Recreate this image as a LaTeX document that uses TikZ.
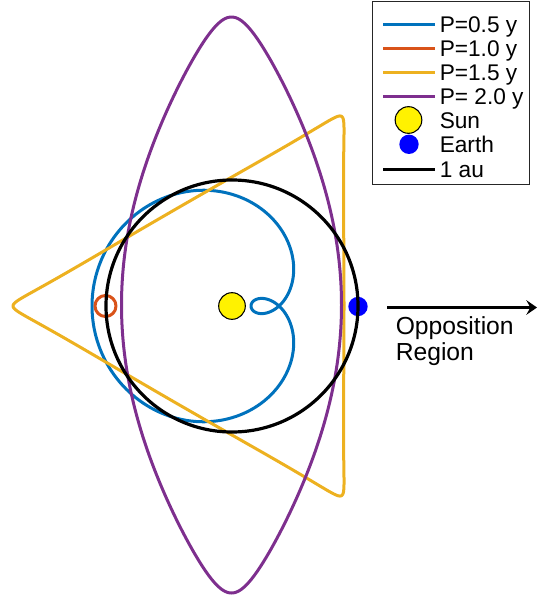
\documentclass[tikz,border=0pt]{standalone}
\usepackage{fontspec}
\setmainfont{Liberation Sans}
\usetikzlibrary{arrows.meta}
\definecolor{mblue}{rgb}{0,0.447,0.741}
\definecolor{mred}{rgb}{0.85,0.325,0.098}
\definecolor{myel}{rgb}{0.929,0.694,0.125}
\definecolor{mpur}{rgb}{0.494,0.184,0.556}
\definecolor{boxgray}{rgb}{0.15,0.15,0.15}
\begin{document}
\begin{tikzpicture}[x=0.75pt,y=-0.75pt,
  curve/.style={line width=2.25pt, line join=round},
  legtext/.style={anchor=base west, inner sep=0pt, font=\fontsize{17}{20}\selectfont},
  anntext/.style={anchor=base west, inner sep=0pt, font=\fontsize{18.5}{21}\selectfont},
  sunball/.style={circle, fill=yellow, draw=black, line width=0.8pt, minimum size=20pt, inner sep=0pt},
  earthball/.style={circle, fill=blue, minimum size=14.5pt, inner sep=0pt}]
\useasboundingbox (0,0) rectangle (538,596);
% P = 0.5 y
\draw[curve, mblue] plot[domain=0:360, samples=241, smooth, variable=\t]
  ({279-(79.5+107.5*cos(\t))*cos(\t)}, {306-(79.5+107.5*cos(\t))*sin(\t)});
% P = 1.0 y
\draw[curve, mred] (105.5,306) circle[radius=10.5];
% P = 1.5 y
\draw[curve, myel] plot[domain=0:360, samples=301, smooth, variable=\t]
  ({232-(165.5*cos(\t)+58.5*cos(2*\t)-5*cos(4*\t))}, {306-(165.5*sin(\t)-58.5*sin(2*\t)-5*sin(4*\t))});
% P = 2.0 y
\draw[curve, mpur] plot[domain=0:360, samples=241, smooth, variable=\t]
  ({231.5+110*cos(\t)*(1-0.45*sin(\t)*sin(\t))}, {305+288*sin(\t)});
% Sun and Earth
\node[sunball] (sun) at (232,306) {};
\node[earthball] (earth) at (358,306.5) {};
% 1 au
\draw[line width=2.4pt] (232,306) circle[radius=126];
% arrow and label
\coordinate (a0) at (387,307.5);
\coordinate (a1) at (537,307.5);
\draw[line width=2.4pt, -{Stealth[length=8pt,width=11pt,inset=3pt]}] (a0) -- (a1);
\node[anntext] (opp) at (395.5,334) {Opposition};
\node[anntext] (reg) at (395.5,360) {Region};
% legend
\draw[boxgray, line width=0.75pt, fill=white] (372,1.5) rectangle (529,184.5);
\coordinate (l1a) at (383,24); \coordinate (l1b) at (435,24);
\coordinate (l2a) at (383,48.2); \coordinate (l2b) at (435,48.2);
\coordinate (l3a) at (383,72.4); \coordinate (l3b) at (435,72.4);
\coordinate (l4a) at (383,96.6); \coordinate (l4b) at (435,96.6);
\coordinate (l7a) at (383,169.5); \coordinate (l7b) at (435,169.5);
\draw[curve, mblue] (l1a) -- (l1b);
\draw[curve, mred] (l2a) -- (l2b);
\draw[curve, myel] (l3a) -- (l3b);
\draw[curve, mpur] (l4a) -- (l4b);
\draw[line width=2.4pt] (l7a) -- (l7b);
\node[sunball] (lsun) at (408.5,120) {};
\node[earthball] (learth) at (409,144.3) {};
\node[legtext] (t1) at (439.5,32) {P=0.5 y};
\node[legtext] (t2) at (439.5,56.2) {P=1.0 y};
\node[legtext] (t3) at (439.5,80.4) {P=1.5 y};
\node[legtext] (t4) at (439.5,104.6) {P= 2.0 y};
\node[legtext] (t5) at (439.5,128.5) {Sun};
\node[legtext] (t6) at (439.5,152.5) {Earth};
\node[legtext] (t7) at (439.5,177) {1 au};
\end{tikzpicture}
\end{document}
